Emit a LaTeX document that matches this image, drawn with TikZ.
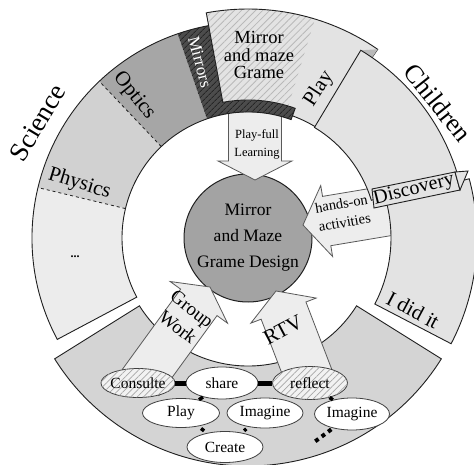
\documentclass[tikz,border=0pt]{standalone}
\usepackage{fontspec}
\setmainfont{Liberation Serif}
\usetikzlibrary{shapes.geometric,patterns.meta}
\definecolor{cLight}{gray}{0.925}
\definecolor{cPhys}{gray}{0.82}
\definecolor{cOpt}{gray}{0.65}
\definecolor{cMir}{gray}{0.30}
\definecolor{cPlay}{gray}{0.89}
\definecolor{cChild}{gray}{0.89}
\definecolor{cBottom}{gray}{0.83}
\definecolor{cCore}{gray}{0.64}
\definecolor{cArrow}{gray}{0.93}
\definecolor{cEdge}{gray}{0.12}
\newcommand\ringsect[4]{(#1:#3) arc[start angle=#1,end angle=#2,radius=#3] -- (#2:#4) arc[start angle=#2,end angle=#1,radius=#4] -- cycle}
\newcommand\myarrow[6]{\draw[barrow, shift={(#1)}, rotate=#2] (0,0) -- (-#6,#5/2) -- (-#6,#4/2) -- (-#3,#4/2) -- (-#3,-#4/2) -- (-#6,-#4/2) -- (-#6,-#5/2) -- cycle;}
\newcommand\myfs[2]{\fontsize{#1}{#2}\selectfont}
\begin{document}
\begin{tikzpicture}[x=1pt,y=1pt,
  outl/.style={draw=cEdge, line width=0.9pt},
  barrow/.style={draw=black!65, fill=cArrow, line width=0.8pt, line join=miter},
  oval/.style={ellipse, draw=black!75, line width=0.8pt, fill=white, inner sep=0pt},
  hatchoval/.style={oval, fill=gray!10, postaction={pattern={Lines[angle=45,distance=4.5pt,line width=0.7pt]}, pattern color=gray!70}},
  thicklink/.style={line width=5pt, black},
  smalllink/.style={line width=3.5pt, black},
  lbl/.style={inner sep=0pt, align=center},
  ovaltext/.style={lbl, font=\myfs{15.5}{18}},
]
\useasboundingbox (0,0) rectangle (474,464);
\coordinate (C) at (248,226);
% core
\node[circle, draw=cEdge, line width=1pt, fill=cCore, minimum size=128pt, inner sep=0pt] (core) at (C) {};
% arrows lying under the ring
\coordinate (tipPF) at (255,284);
\coordinate (tipHO) at (303,239);
\myarrow{tipPF}{-90}{72}{53}{74}{19}
\myarrow{tipHO}{189.5}{95}{50}{72}{24}
\begin{scope}[shift={(C)}]
  % Science ring
  \fill[cLight] \ringsect{166.5}{208}{126}{216};
  \fill[cPhys] \ringsect{133.5}{166.5}{126}{216};
  \fill[cOpt] \ringsect{109}{133.5}{126}{216};
  \path[fill=cMir, postaction={pattern={Lines[angle=45,distance=4pt,line width=1pt]}, pattern color=black!85}] \ringsect{70}{109}{126}{216};
  \draw[cEdge, dashed, line width=0.8pt] (166.5:126) -- (166.5:216) (133.5:126) -- (133.5:216);
  \draw[outl] \ringsect{70}{208}{126}{216};
  % Play wedge with the game box
  \path[fill=cPlay] (100.5:138) -- (100.5:229) arc[start angle=100.5,end angle=55.5,radius=229] -- (55.5:130) arc[start angle=55.5,end angle=70,radius=130] -- (70:138) arc[start angle=70,end angle=100.5,radius=138] -- cycle;
  \path[pattern={Lines[angle=45,distance=5pt,line width=0.8pt]}, pattern color=gray!55] \ringsect{73}{100.5}{138}{229};
  \draw[outl] (100.5:138) -- (100.5:229) arc[start angle=100.5,end angle=55.5,radius=229] -- (55.5:130) arc[start angle=55.5,end angle=70,radius=130] -- (70:138) arc[start angle=70,end angle=100.5,radius=138] -- cycle;
  \fill[gray!55] (59:219) -- (55.5:229) -- (55.5:219) -- cycle;
  % Children ring
  \draw[outl, fill=cChild] \ringsect{17}{59}{129}{219};
  \draw[outl, fill=cChild] \ringsect{-27.5}{15}{143}{229};
  % bottom ring
  \draw[outl, fill=cBottom] \ringsect{212}{328}{128}{228};
\end{scope}
% Discovery tab
\draw[outl, fill=cChild] (372,275) -- (455,292) -- (460,274) -- (374,256) -- cycle;
\draw[outl, fill=cChild] (455,292) -- (468,293) -- (460,274) -- cycle;
% arrows over the bottom ring
\coordinate (tipGW) at (210,177);
\coordinate (tipRTV) at (276,173);
\myarrow{tipGW}{54}{118}{45}{71}{19}
\myarrow{tipRTV}{111}{100}{48}{70}{21}
% ellipses
\node[hatchoval, minimum width=74pt, minimum height=29pt] (consulte) at (138,81) {};
\node[oval, minimum width=72pt, minimum height=32pt] (share) at (222,81) {};
\node[hatchoval, minimum width=75pt, minimum height=33pt] (reflect) at (310,81) {};
\node[oval, minimum width=77pt, minimum height=29pt] (play) at (181,51) {};
\node[oval, minimum width=76pt, minimum height=30pt] (imag1) at (265,51) {};
\node[oval, minimum width=75pt, minimum height=32pt] (imag2) at (352,50) {};
\node[oval, minimum width=76pt, minimum height=31pt] (create) at (225,17) {};
\draw[thicklink] (consulte) -- (share);
\draw[thicklink] (share) -- (reflect);
\draw[smalllink] (share) -- (play);
\draw[smalllink, shorten <=3.5pt, shorten >=3.5pt] (play) -- (create);
\draw[smalllink, shorten <=3pt, shorten >=3pt] (imag1) -- (create);
\draw[smalllink] (reflect) -- (imag2);
\coordinate (dotsend) at (313,21);
\draw[line width=4pt, dash pattern=on 4pt off 4pt, shorten <=2pt] (imag2) -- (dotsend);
% ellipse texts
\node[ovaltext] (tConsulte) at (consulte) {Consulte};
\node[ovaltext] (tShare) at (share) {share};
\node[ovaltext] (tReflect) at (reflect) {reflect};
\node[ovaltext] (tPlayE) at (play) {Play};
\node[ovaltext] (tImag1) at (imag1) {Imagine};
\node[ovaltext] (tImag2) at (imag2) {Imagine};
\node[ovaltext] (tCreate) at (create) {Create};
% ring texts
\node[lbl, text=white, rotate=-75, font=\myfs{17}{20}] (tMirrors) at (200,402) {Mirrors};
\node[lbl, rotate=-51, font=\myfs{21}{24}] (tOptics) at (134,368) {Optics};
\node[lbl, rotate=-17, font=\myfs{21}{24}] (tPhysics) at (79.5,280) {Physics};
\node[lbl, font=\myfs{12}{14}\bfseries] (tDots) at (75,207) {...};
\node[lbl, rotate=59, font=\myfs{27}{32}] (tScience) at (37.5,341.5) {Science};
\node[lbl, rotate=-51.5, font=\myfs{26}{32}] (tChildren) at (438,361) {Children};
\node[lbl, font=\myfs{18.5}{17.5}] (tBox) at (259,409) {Mirror\\and maze\\Grame};
\node[lbl, rotate=57, font=\myfs{21}{24}] (tPlay) at (319,375) {Play};
\node[lbl, rotate=14, font=\myfs{20}{24}] (tDisc) at (414,274) {Discovery};
\node[lbl, rotate=-28, font=\myfs{21}{24}] (tDid) at (413,154) {I did it};
% center and arrow texts
\node[lbl, font=\myfs{17.5}{26}] (tCore) at (248,226) {Mirror\\and Maze\\Grame Design};
\node[lbl, font=\myfs{12.5}{18}] (tPF) at (257,320) {Play-full\\Learning};
\node[lbl, rotate=10, font=\myfs{14.5}{19}] (tHO) at (343,251) {hands-on\\activities};
\node[lbl, rotate=-38, font=\myfs{19}{23}] (tGW) at (185,146) {Group\\Work};
\node[lbl, rotate=28, font=\myfs{21}{24}] (tRTV) at (283,134) {RTV};
\end{tikzpicture}
\end{document}
